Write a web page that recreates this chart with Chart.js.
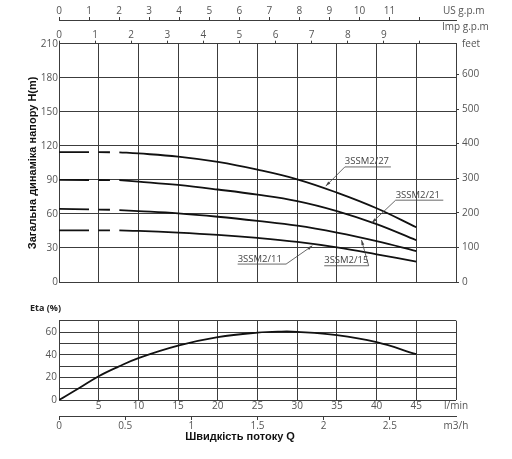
<!DOCTYPE html>
<html>
<head>
<meta charset="utf-8">
<script src="https://cdn.jsdelivr.net/npm/chart.js@4.4.1/dist/chart.umd.min.js"></script>
<style>
    html, body { margin: 0; padding: 0; background: #fff; }
    #wrap { position: relative; width: 512px; height: 459px; overflow: hidden; }
    .box { position: absolute; left: 0; width: 512px; }
</style>
</head>
<body>
<div id="wrap">
    <div class="box" style="top:0;height:300px"><canvas id="hodeGraf"></canvas></div>
    <div class="box" style="top:300px;height:159px"><canvas id="etaGraf"></canvas></div>
</div>
<script>
// Data lest av bildet (Q i l/min, H i m, Eta i %)
const pumper = ['3SSM2/27', '3SSM2/21', '3SSM2/15', '3SSM2/11'];
const qStipla = [0, 7.6];
const qHel = [7.6, 10, 15, 20, 25, 30, 35, 40, 45];

const h27Stipla = [114.5, 114.3];
const h27 = [114.3, 113.3, 110.5, 105.8, 99, 90.5, 78.8, 65, 48.3];
const h21Stipla = [90, 89.8];
const h21 = [89.8, 88.5, 85.5, 81.5, 77, 71.3, 62.5, 51, 36.8];
const h15Stipla = [64.5, 63.5];
const h15 = [63.3, 62.5, 60.5, 57.5, 53.8, 49.6, 43.5, 36, 27.3];
const h11Stipla = [45.5, 45.5];
const h11 = [45.5, 45, 43.5, 41.5, 38.8, 35.3, 30.5, 24.4, 17.9];

const etaQ = [0, 2.5, 5, 7.5, 10, 15, 20, 25, 28, 30, 35, 40, 45];
const etaVerdi = [0, 10.3, 21, 29.5, 37, 48, 55.5, 59.5, 60.4, 60.2, 57.3, 51, 40.4];

// Akser
const qTicks = [0, 5, 10, 15, 20, 25, 30, 35, 40, 45, 50];
const qLabels = ['', '5', '10', '15', '20', '25', '30', '35', '40', '45', 'l/min'];
const hTicks = [0, 30, 60, 90, 120, 150, 180, 210];
const feetTicks = [0, 100, 200, 300, 400, 500, 600, 210 * 3.28084];
const feetLabels = ['0', '100', '200', '300', '400', '500', '600', 'feet'];
const usTicks = [0, 1, 2, 3, 4, 5, 6, 7, 8, 9, 10, 11, 12];
const usLabels = ['0', '1', '2', '3', '4', '5', '6', '7', '8', '9', '10', '11', ''];
const impTicks = [0, 1, 2, 3, 4, 5, 6, 7, 8, 9, 10];
const impLabels = ['0', '1', '2', '3', '4', '5', '6', '7', '8', '9', ''];
const m3Ticks = [0, 0.5, 1, 1.5, 2, 2.5, 3];
const m3Labels = ['0', '0.5', '1', '1.5', '2', '2.5', 'm3/h'];
const etaTicks = [0, 10, 20, 30, 40, 50, 60, 70];
const etaLabels = ['0', '', '20', '', '40', '', '60', ''];

const gridFarge = '#3c3c3c';
const tekstFarge = '#555';
const tickFont = { family: 'Open Sans', size: 10 };

// Etiketter med pekere, i dataenheter
const merker = [
    { navn: pumper[0], q0: 36.0, q1: 41.8, h: 101.4, fra: 0, tq: 33.6, th: 84.5 },
    { navn: pumper[1], q0: 42.4, q1: 48.4, h: 72.1, fra: 0, tq: 39.4, th: 52.2 },
    { navn: pumper[2], q0: 33.4, q1: 39.0, h: 14.3, fra: 1, tq: 38.1, th: 37.0 },
    { navn: pumper[3], q0: 22.5, q1: 28.6, h: 15.8, fra: 1, tq: 31.9, th: 31.9 }
];

function settTicks(verdier) {
    return function (scale) {
        scale.ticks = verdier.map(v => ({ value: v }));
    };
}

function lagPar(qs, hs) {
    return qs.map((q, i) => ({ x: q, y: hs[i] }));
}

function linje(data, stiplet) {
    return {
        data: data,
        borderColor: '#111',
        borderWidth: 1.8,
        pointRadius: 0,
        fill: false,
        tension: 0.4,
        borderDash: stiplet ? [30, 9.5, 11.5, 10] : []
    };
}

const merkePlugin = {
    id: 'merker',
    afterDatasetsDraw(chart) {
        const ctx = chart.ctx;
        const sx = chart.scales.x, sy = chart.scales.y;
        ctx.save();
        ctx.font = '9.5px "Open Sans"';
        ctx.fillStyle = '#444';
        ctx.strokeStyle = '#444';
        ctx.lineWidth = 0.8;
        ctx.textBaseline = 'bottom';
        merker.forEach(m => {
            const x0 = sx.getPixelForValue(m.q0);
            const x1 = sx.getPixelForValue(m.q1);
            const y = sy.getPixelForValue(m.h);
            const px = m.fra === 0 ? x0 : x1;
            const tx = sx.getPixelForValue(m.tq);
            const ty = sy.getPixelForValue(m.th);
            ctx.fillText(m.navn, x0, y - 0.5);
            ctx.beginPath();
            ctx.moveTo(x0, y);
            ctx.lineTo(x1, y);
            ctx.moveTo(px, y);
            ctx.lineTo(tx, ty);
            ctx.stroke();
            // liten pil
            const a = Math.atan2(ty - y, tx - px);
            ctx.beginPath();
            ctx.moveTo(tx, ty);
            ctx.lineTo(tx - 5 * Math.cos(a) + 1.5 * Math.sin(a), ty - 5 * Math.sin(a) - 1.5 * Math.cos(a));
            ctx.lineTo(tx - 5 * Math.cos(a) - 1.5 * Math.sin(a), ty - 5 * Math.sin(a) + 1.5 * Math.cos(a));
            ctx.closePath();
            ctx.fill();
        });
        ctx.restore();
    }
};

const hodeGraf = new Chart(document.getElementById('hodeGraf'), {
    type: 'line',
    data: {
        datasets: [
            linje(lagPar(qStipla, h27Stipla), true), linje(lagPar(qHel, h27), false),
            linje(lagPar(qStipla, h21Stipla), true), linje(lagPar(qHel, h21), false),
            linje(lagPar(qStipla, h15Stipla), true), linje(lagPar(qHel, h15), false),
            linje(lagPar(qStipla, h11Stipla), true), linje(lagPar(qHel, h11), false)
        ]
    },
    options: {
        responsive: true,
        maintainAspectRatio: false,
        animation: false,
        layout: { padding: 0 },
        plugins: { legend: { display: false }, tooltip: { enabled: false } },
        scales: {
            x: {
                type: 'linear', position: 'bottom', min: 0, max: 50,
                afterBuildTicks: settTicks(qTicks),
                afterFit: s => { s.height = 18; },
                ticks: { display: false },
                grid: { color: gridFarge, lineWidth: 1, drawTicks: false },
                border: { display: false }
            },
            y: {
                type: 'linear', position: 'left', min: 0, max: 210,
                afterBuildTicks: settTicks(hTicks),
                afterFit: s => { s.width = 59; },
                ticks: { font: tickFont, color: tekstFarge, padding: 1, autoSkip: false },
                grid: { color: gridFarge, lineWidth: 1, drawTicks: false },
                border: { display: false },
                title: {
                    display: true,
                    text: 'Загальна динаміка напору H(m)',
                    color: '#111',
                    font: { family: 'Liberation Sans', size: 11, weight: 'bold' },
                    padding: { top: 26, bottom: 0 }
                }
            },
            yFeet: {
                type: 'linear', position: 'right', min: 0, max: 210 * 3.28084,
                afterBuildTicks: settTicks(feetTicks),
                afterFit: s => { s.width = 56; },
                ticks: {
                    font: tickFont, color: tekstFarge, padding: 3, autoSkip: false,
                    callback: (v, i) => feetLabels[i]
                },
                grid: {
                    drawOnChartArea: false, tickLength: 3,
                    tickColor: c => (c.index === feetTicks.length - 1 ? 'rgba(0,0,0,0)' : gridFarge)
                },
                border: { display: true, color: gridFarge }
            },
            xUS: {
                type: 'linear', position: 'top', weight: 2, min: 0, max: 50 / 3.785,
                afterBuildTicks: settTicks(usTicks),
                afterFit: s => { s.height = 20; },
                ticks: {
                    font: tickFont, color: tekstFarge, padding: 0, autoSkip: false, maxRotation: 0,
                    callback: (v, i) => usLabels[i]
                },
                grid: { drawOnChartArea: false, tickLength: 3, color: gridFarge },
                border: { display: true, color: gridFarge }
            },
            xImp: {
                type: 'linear', position: 'top', weight: 1, min: 0, max: 50 / 4.546,
                afterBuildTicks: settTicks(impTicks),
                afterFit: s => { s.height = 23.7; },
                ticks: {
                    font: tickFont, color: tekstFarge, padding: 0, autoSkip: false, maxRotation: 0,
                    callback: (v, i) => impLabels[i]
                },
                grid: { drawOnChartArea: false, tickLength: 3, color: gridFarge },
                border: { display: true, color: gridFarge }
            }
        }
    },
    plugins: [merkePlugin, {
        id: 'enhetTekst',
        afterDraw(chart) {
            const ctx = chart.ctx;
            ctx.save();
            ctx.font = '10px "Open Sans"';
            ctx.fillStyle = tekstFarge;
            ctx.textBaseline = 'middle';
            ctx.fillText('US g.p.m', 443, 11);
            ctx.fillText('Imp g.p.m', 442, 27);
            ctx.restore();
        }
    }]
});

const etaGraf = new Chart(document.getElementById('etaGraf'), {
    type: 'line',
    data: {
        datasets: [linje(lagPar(etaQ, etaVerdi), false)]
    },
    options: {
        responsive: true,
        maintainAspectRatio: false,
        animation: false,
        layout: { padding: { top: 20.7, right: 56, bottom: 15, left: 0 } },
        plugins: { legend: { display: false }, tooltip: { enabled: false } },
        scales: {
            x: {
                type: 'linear', position: 'bottom', weight: 1, min: 0, max: 50,
                afterBuildTicks: settTicks(qTicks),
                afterFit: s => { s.height = 16; },
                ticks: {
                    font: tickFont, color: tekstFarge, padding: 0, autoSkip: false, maxRotation: 0,
                    callback: (v, i) => qLabels[i]
                },
                grid: { color: gridFarge, lineWidth: 1, drawTicks: false },
                border: { display: false }
            },
            xM3: {
                type: 'linear', position: 'bottom', weight: 2, min: 0, max: 3,
                afterBuildTicks: settTicks(m3Ticks),
                afterFit: s => { s.height = 28; },
                ticks: {
                    font: tickFont, color: tekstFarge, padding: 0, autoSkip: false, maxRotation: 0,
                    callback: (v, i) => m3Labels[i]
                },
                grid: {
                    drawOnChartArea: false, tickLength: 4,
                    tickColor: c => (c.index === m3Ticks.length - 1 ? 'rgba(0,0,0,0)' : gridFarge)
                },
                border: { display: true, color: gridFarge }
            },
            y: {
                type: 'linear', position: 'left', min: 0, max: 70,
                afterBuildTicks: settTicks(etaTicks),
                afterFit: s => { s.width = 59; },
                ticks: {
                    font: tickFont, color: tekstFarge, padding: 2, autoSkip: false,
                    callback: (v, i) => etaLabels[i]
                },
                grid: { color: gridFarge, lineWidth: 1, drawTicks: false },
                border: { display: false }
            }
        }
    },
    plugins: [{
        id: 'etaTekst',
        afterDraw(chart) {
            const ctx = chart.ctx;
            ctx.save();
            ctx.textBaseline = 'middle';
            ctx.fillStyle = '#222';
            ctx.font = 'bold 9px "Open Sans"';
            ctx.fillText('Eta (%)', 30, 8);
            ctx.fillStyle = '#111';
            ctx.font = 'bold 11px "Liberation Sans"';
            ctx.textAlign = 'center';
            ctx.fillText('Швидкість потоку Q', 240, 136.7);
            ctx.restore();
        }
    }]
});
</script>
</body>
</html>
